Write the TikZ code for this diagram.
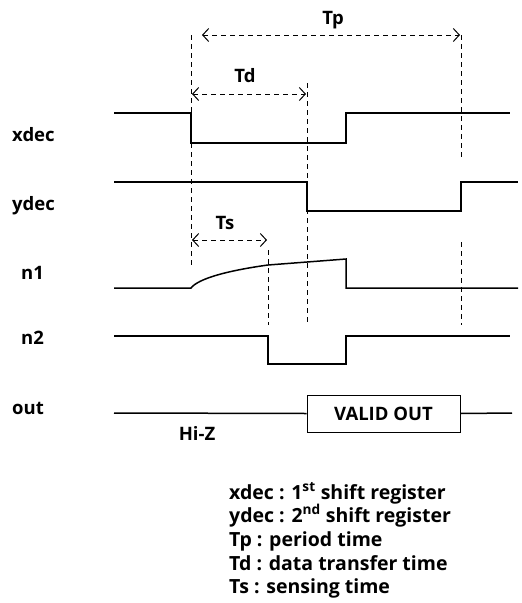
\documentclass[tikz,border=0pt]{standalone}
\usepackage{fontspec}
\setmainfont{Open Sans}
\usetikzlibrary{arrows.meta}

\tikzset{
  sig/.style={line width=1.5pt},
  guide/.style={dash pattern=on 5pt off 4pt, line width=1pt},
  span/.style={guide, {Straight Barb[length=6pt,width=13pt]}-{Straight Barb[length=6pt,width=13pt]}},
  lbl/.style={font=\bfseries\fontsize{18.5}{21}\selectfont, inner sep=0pt},
  legend/.style={lbl, font=\bfseries\fontsize{19.5}{22}\selectfont, anchor=base west}
}

\begin{document}
\begin{tikzpicture}[x=1pt,y=-1pt]
\useasboundingbox (0,0) rectangle (522,603);
\node[lbl,anchor=base west] (xdec) at (12,141) {xdec};
\node[lbl,anchor=base west] (ydec) at (12,210) {ydec};
\node[lbl,anchor=base west] (n1) at (21,279) {n1};
\node[lbl,anchor=base west] (n2) at (21,344) {n2};
\node[lbl,anchor=base west] (out) at (12,414) {out};

\draw[sig] (114,113) -- (191,113) -- (191,143) -- (346,143) -- (346,113) -- (510,113);
\draw[sig] (114,182) -- (307,182) -- (307,211) -- (461,211) -- (461,182) -- (518,182);
\draw[sig] (114,288) -- (191,288) .. controls (198,279) and (225,271) .. (268,265) -- (346,259) -- (346,288) -- (518,288);
\draw[sig] (114,336) -- (268,336) -- (268,364) -- (346,364) -- (346,336) -- (510,336);

\node[lbl, draw, line width=1pt, minimum width=153pt, minimum height=37pt] (valid) at (383.5,413.5) {VALID OUT};
\coordinate (hizstart) at (114,413);
\coordinate (outend) at (512,413);
\draw[sig] (hizstart) -- (valid.west);
\draw[sig] (valid.east) -- (outend);
\node[lbl] (hiz) at (197,433) {Hi-Z};

\draw[guide] (191,35) -- (191,268);
\draw[guide] (307,83) -- (307,322);
\draw[guide] (268,250) -- (268,325);
\draw[guide] (461,35) -- (461,157);
\draw[guide] (461,242) -- (461,325);

\draw[span] (202,35) -- (460,35);
\draw[span] (192,94) -- (306,94);
\draw[span] (192,240) -- (267,240);
\node[lbl] (tp) at (333,20) {Tp};
\node[lbl] (td) at (245,76) {Td};
\node[lbl] (ts) at (225,223) {Ts};

\node[legend] (leg1) at (229,499) {xdec : 1\textsuperscript{st} shift register};
\node[legend] (leg2) at (229,522) {ydec : 2\textsuperscript{nd} shift register};
\node[legend] (leg3) at (229,546) {Tp : period time};
\node[legend] (leg4) at (229,570) {Td : data transfer time};
\node[legend] (leg5) at (229,593) {Ts : sensing time};
\end{tikzpicture}
\end{document}
